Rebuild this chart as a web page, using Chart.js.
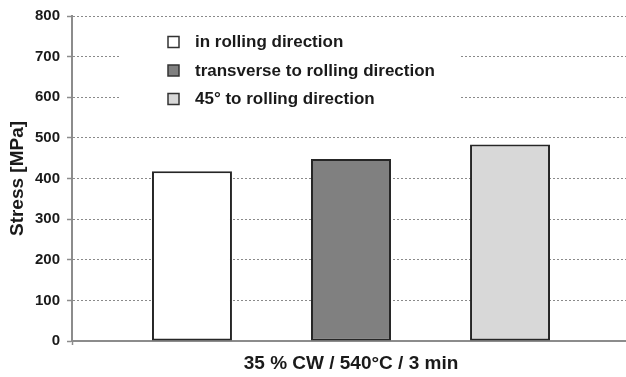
<!DOCTYPE html>
<html>
<head>
<meta charset="utf-8">
<script src="https://cdn.jsdelivr.net/npm/chart.js@4/dist/chart.umd.min.js"></script>
<style>
  html, body { margin: 0; padding: 0; background: #fff; overflow: hidden; }
  canvas { display: block; }
</style>
</head>
<body>
<canvas id="c" width="630" height="377"></canvas>
<script>
// Stress per specimen orientation, one treatment condition
const categories = ['35 % CW / 540°C / 3 min'];
const seriesNames = ['in rolling direction', 'transverse to rolling direction', '45° to rolling direction'];
const inRolling = [418];
const transverse = [448];
const diagonal45 = [484];
const yMin = 0, yMax = 800, yStep = 100;

const fills = ['#ffffff', '#808080', '#d8d8d8'];
const FONT = '"Liberation Sans", Arial, sans-serif';
const INK = '#1a1a1a';
const AXIS = '#8c8c8c';

// Legend drawn as a boxed list inside the plot area
const insideLegend = {
  id: 'insideLegend',
  beforeDatasetsDraw(chart) {
    const ctx = chart.ctx;
    ctx.save();
    ctx.fillStyle = '#ffffff';
    ctx.fillRect(119, 22, 341, 96);
    ctx.font = 'bold 17px ' + FONT;
    ctx.textBaseline = 'middle';
    ctx.textAlign = 'left';
    chart.data.datasets.forEach((ds, i) => {
      const cy = 42 + i * 28.5;
      ctx.fillStyle = ds.backgroundColor;
      ctx.fillRect(168, cy - 5.5, 11, 11);
      ctx.lineWidth = 1.5;
      ctx.strokeStyle = '#333';
      ctx.strokeRect(168, cy - 5.5, 11, 11);
      ctx.fillStyle = INK;
      ctx.fillText(ds.label, 195, cy + 0.5);
    });
    ctx.restore();
  }
};

const seriesValues = [inRolling, transverse, diagonal45];

new Chart(document.getElementById('c'), {
  type: 'bar',
  data: {
    labels: categories,
    datasets: seriesNames.map((name, i) => ({
      label: name,
      data: seriesValues[i],
      backgroundColor: fills[i],
      borderColor: '#262626',
      borderWidth: 2,
      borderSkipped: false,
      categoryPercentage: 0.855,
      barPercentage: 0.503
    }))
  },
  options: {
    responsive: false,
    devicePixelRatio: 1,
    animation: false,
    layout: { padding: { top: 14, right: 0, bottom: 0, left: 0 } },
    plugins: {
      legend: { display: false },
      tooltip: { enabled: false }
    },
    scales: {
      x: {
        afterFit(scale) { scale.height = 36; },
        grid: {
          offset: true,
          drawOnChartArea: false,
          color: AXIS,
          tickLength: 4,
          tickWidth: 1.5,
          tickColor: AXIS
        },
        border: { color: AXIS, width: 2 },
        ticks: {
          color: INK,
          padding: 7,
          font: { family: FONT, size: 19, weight: 'bold' }
        }
      },
      y: {
        min: yMin,
        max: yMax,
        afterFit(scale) { scale.width = 72; },
        ticks: {
          stepSize: yStep,
          color: INK,
          padding: 7,
          font: { family: FONT, size: 15, weight: 'bold' }
        },
        grid: {
          color: '#8a8a8a',
          lineWidth: 1,
          tickLength: 5,
          tickWidth: 1.5,
          tickColor: AXIS
        },
        border: { color: AXIS, width: 2, dash: [2, 2] },
        title: {
          display: true,
          text: 'Stress [MPa]',
          color: INK,
          padding: { top: 6, bottom: 0 },
          font: { family: FONT, size: 19, weight: 'bold' }
        }
      }
    }
  },
  plugins: [insideLegend]
});
</script>
</body>
</html>
